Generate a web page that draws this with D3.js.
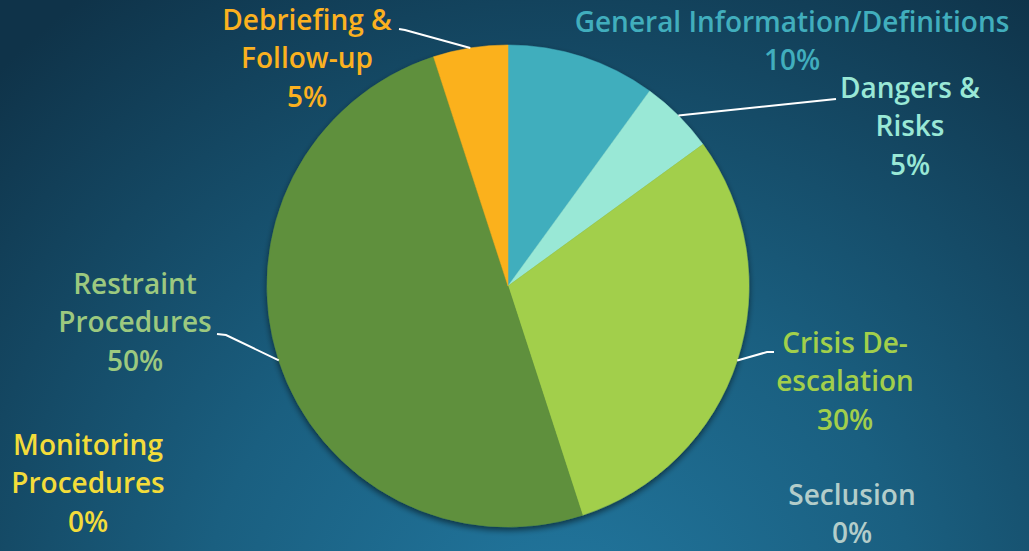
<!DOCTYPE html>
<html>
<head>
<meta charset="utf-8">
<script src="https://cdn.jsdelivr.net/npm/d3@7"></script>
<style>
  html, body { margin: 0; padding: 0; overflow: hidden; }
  svg { display: block; }
</style>
</head>
<body>
<div id="chart"></div>
<script>
// categories in clockwise order from 12 o'clock
const categories = [
  "General Information/Definitions",
  "Dangers & Risks",
  "Crisis De-escalation",
  "Seclusion",
  "Restraint Procedures",
  "Monitoring Procedures",
  "Debriefing & Follow-up"
];
const values = [10, 5, 30, 0, 50, 0, 5];
const sliceColors = ["#41aebd", "#99e8d6", "#a2cf4b", "#b3cdca", "#5f903c", "#f3dc3a", "#fbb11f"];
const labelColors = ["#41aebd", "#99e8d6", "#a2cf4b", "#b3cdca", "#9cc97f", "#f3dc3a", "#fbb11f"];
// how each label is broken into lines
const labelLines = [
  ["General Information/Definitions"],
  ["Dangers &", "Risks"],
  ["Crisis De-", "escalation"],
  ["Seclusion"],
  ["Restraint", "Procedures"],
  ["Monitoring", "Procedures"],
  ["Debriefing &", "Follow-up"]
];

// label layout: center x, first line middle y, leader elbow (null = no leader)
const labelLayout = [
  { x: 792, y: 22, elbow: null },
  { x: 910, y: 88, elbow: [836, 99], end: [836, 99] },
  { x: 845, y: 343, elbow: [767, 352], end: [774, 352] },
  { x: 852, y: 495, elbow: null },
  { x: 135, y: 284, elbow: [226, 335], end: [217, 334] },
  { x: 88, y: 445, elbow: null },
  { x: 307, y: 20, elbow: [405, 30], end: [399, 29] }
];

const width = 1029, height = 551;
const cx = 508, cy = 286, radius = 241;
const lineH = 38.5;

const svg = d3.select("#chart").append("svg")
  .attr("width", width)
  .attr("height", height)
  .style("font-family", "'Open Sans', Lato, sans-serif");

const defs = svg.append("defs");
const bg = defs.append("radialGradient")
  .attr("id", "bg")
  .attr("gradientUnits", "userSpaceOnUse")
  .attr("cx", 560).attr("cy", 640).attr("r", 800);
bg.append("stop").attr("offset", "0%").attr("stop-color", "#2278a0");
bg.append("stop").attr("offset", "45%").attr("stop-color", "#1a5f80");
bg.append("stop").attr("offset", "100%").attr("stop-color", "#0f3349");

defs.append("filter")
  .attr("id", "shadow")
  .attr("x", "-20%").attr("y", "-20%").attr("width", "140%").attr("height", "140%")
  .html(`
    <feGaussianBlur in="SourceAlpha" stdDeviation="3"/>
    <feOffset dx="0" dy="3" result="b"/>
    <feComponentTransfer><feFuncA type="linear" slope="0.55"/></feComponentTransfer>
    <feMerge><feMergeNode/><feMergeNode in="SourceGraphic"/></feMerge>
  `);

svg.append("rect")
  .attr("width", width).attr("height", height)
  .attr("fill", "url(#bg)");

const data = categories.map((c, i) => ({ name: c, value: values[i], index: i }));

const pie = d3.pie().sort(null).value(d => d.value);
const arcs = pie(data);
const arc = d3.arc().innerRadius(0).outerRadius(radius);

const g = svg.append("g")
  .attr("transform", `translate(${cx},${cy})`);

g.append("g")
  .attr("filter", "url(#shadow)")
  .selectAll("path")
  .data(arcs.filter(d => d.value > 0))
  .join("path")
  .attr("d", arc)
  .attr("fill", d => sliceColors[d.data.index])
  .attr("stroke", d => sliceColors[d.data.index])
  .attr("stroke-width", 0.5);

// leader lines: from slice edge at mid angle to elbow to label end
svg.append("g")
  .selectAll("path")
  .data(arcs.filter(d => labelLayout[d.data.index].elbow))
  .join("path")
  .attr("fill", "none")
  .attr("stroke", "#ffffff")
  .attr("stroke-width", 2)
  .attr("d", d => {
    const a = (d.startAngle + d.endAngle) / 2;
    const p = [cx + radius * Math.sin(a), cy - radius * Math.cos(a)];
    const L = labelLayout[d.data.index];
    return d3.line()([p, L.elbow, L.end]);
  });

// labels
const labels = svg.append("g")
  .selectAll("text")
  .data(arcs)
  .join("text")
  .attr("text-anchor", "middle")
  .attr("font-size", 28)
  .attr("font-weight", 600)
  .attr("fill", d => labelColors[d.data.index]);

labels.each(function (d) {
  const L = labelLayout[d.data.index];
  const lines = labelLines[d.data.index].concat([d3.format(".0%")(d.value / d3.sum(values))]);
  d3.select(this).selectAll("tspan")
    .data(lines)
    .join("tspan")
    .attr("x", L.x)
    .attr("y", (t, j) => L.y + j * lineH)
    .attr("dy", "0.35em")
    .text(t => t);
});
</script>
</body>
</html>
